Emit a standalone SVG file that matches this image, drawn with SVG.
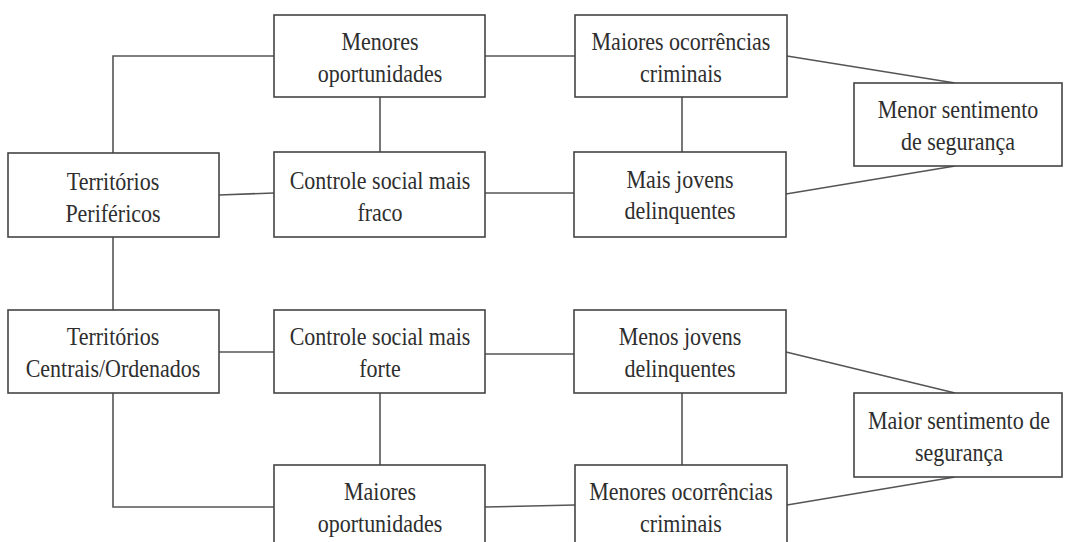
<svg xmlns="http://www.w3.org/2000/svg" width="1068" height="542" viewBox="0 0 1068 542">
<style>
rect{fill:#fff;stroke:#444;stroke-width:1.6}
.c line,.c polyline{stroke:#555;stroke-width:1.6;fill:none}
.t text{font-size:25px;fill:#2e2e2e;text-anchor:middle}
</style>
<rect x="0" y="0" width="1068" height="542" style="stroke:none"/>
<g class="c">
<polyline points="113,153 113,56 274,56"/>
<line x1="113" y1="237" x2="113" y2="310"/>
<line x1="219" y1="195" x2="274" y2="193"/>
<line x1="380" y1="97" x2="380" y2="152"/>
<line x1="485" y1="56" x2="575" y2="56"/>
<line x1="485" y1="193" x2="574" y2="193"/>
<line x1="682" y1="97" x2="682" y2="152"/>
<line x1="787" y1="56" x2="955" y2="83"/>
<line x1="786" y1="194" x2="955" y2="166"/>
<line x1="219" y1="352" x2="274" y2="352"/>
<polyline points="113,393 113,507 274,507"/>
<line x1="380" y1="393" x2="380" y2="465"/>
<line x1="485" y1="354" x2="574" y2="354"/>
<line x1="485" y1="507" x2="575" y2="505"/>
<line x1="682" y1="393" x2="682" y2="465"/>
<line x1="786" y1="352" x2="955" y2="393"/>
<line x1="787" y1="505" x2="955" y2="477"/>
</g>
<g class="t" font-family="'Liberation Serif', 'Times New Roman', serif">
<g id="menores-oportunidades">
<rect x="274" y="15" width="211" height="82"/>
<text transform="translate(380,50) scale(0.88,1)">Menores</text>
<text transform="translate(380,82) scale(0.88,1)">oportunidades</text>
</g>
<g id="maiores-ocorrencias">
<rect x="575" y="15" width="212" height="82"/>
<text transform="translate(681,50) scale(0.88,1)">Maiores ocorrências</text>
<text transform="translate(681,82) scale(0.88,1)">criminais</text>
</g>
<g id="menor-sentimento">
<rect x="854" y="83" width="208" height="83"/>
<text transform="translate(958,118) scale(0.88,1)">Menor sentimento</text>
<text transform="translate(958,150) scale(0.88,1)">de segurança</text>
</g>
<g id="territorios-perifericos">
<rect x="8" y="153" width="211" height="84"/>
<text transform="translate(113,190) scale(0.88,1)">Territórios</text>
<text transform="translate(113,222) scale(0.88,1)">Periféricos</text>
</g>
<g id="controle-fraco">
<rect x="274" y="152" width="211" height="85"/>
<text transform="translate(380,189) scale(0.88,1)">Controle social mais</text>
<text transform="translate(380,221) scale(0.88,1)">fraco</text>
</g>
<g id="mais-jovens">
<rect x="574" y="152" width="212" height="85"/>
<text transform="translate(680,188) scale(0.88,1)">Mais jovens</text>
<text transform="translate(680,219) scale(0.88,1)">delinquentes</text>
</g>
<g id="territorios-centrais">
<rect x="8" y="310" width="211" height="83"/>
<text transform="translate(113,345) scale(0.88,1)">Territórios</text>
<text transform="translate(113,377) scale(0.88,1)">Centrais/Ordenados</text>
</g>
<g id="controle-forte">
<rect x="274" y="310" width="211" height="83"/>
<text transform="translate(380,345) scale(0.88,1)">Controle social mais</text>
<text transform="translate(380,377) scale(0.88,1)">forte</text>
</g>
<g id="menos-jovens">
<rect x="574" y="310" width="212" height="83"/>
<text transform="translate(680,345) scale(0.88,1)">Menos jovens</text>
<text transform="translate(680,377) scale(0.88,1)">delinquentes</text>
</g>
<g id="maior-sentimento">
<rect x="854" y="393" width="208" height="84"/>
<text transform="translate(959,429) scale(0.88,1)">Maior sentimento de</text>
<text transform="translate(959,461) scale(0.88,1)">segurança</text>
</g>
<g id="maiores-oportunidades">
<rect x="274" y="465" width="211" height="84"/>
<text transform="translate(380,500) scale(0.88,1)">Maiores</text>
<text transform="translate(380,532) scale(0.88,1)">oportunidades</text>
</g>
<g id="menores-ocorrencias">
<rect x="575" y="465" width="212" height="84"/>
<text transform="translate(681,500) scale(0.88,1)">Menores ocorrências</text>
<text transform="translate(681,532) scale(0.88,1)">criminais</text>
</g>
</g>
</svg>
